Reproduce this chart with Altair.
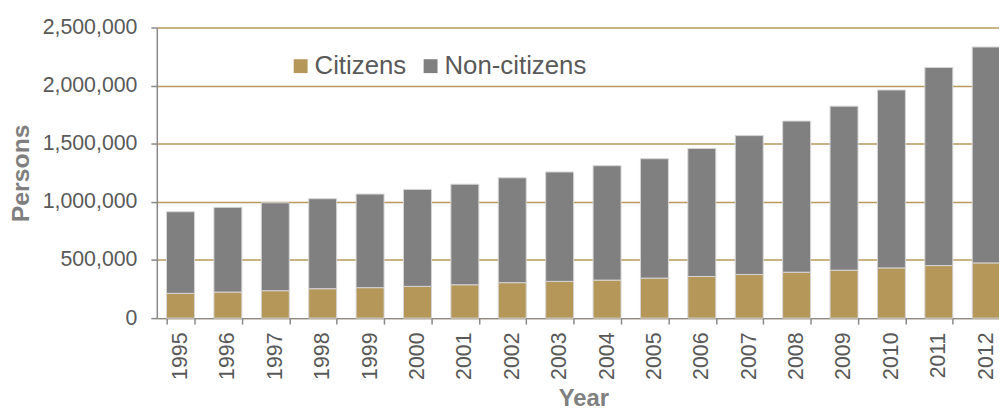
import altair as alt
import pandas as pd

years = [str(y) for y in range(1995, 2013)]
citizens = [213000, 224000, 236000, 253000, 262000, 273000, 287000, 305000, 316000,
            327000, 344000, 358000, 375000, 395000, 412000, 432000, 452000, 475000]
totals = [915000, 953000, 992000, 1027000, 1067000, 1107000, 1152000, 1207000, 1257000,
          1311000, 1371000, 1459000, 1570000, 1695000, 1823000, 1962000, 2156000, 2332000]
non_citizens = [t - c for t, c in zip(totals, citizens)]
y_ticks = [0, 500000, 1000000, 1500000, 2000000, 2500000]

series = ["Citizens", "Non-citizens"]
colors = ["#B5975A", "#808080"]

rows = []
for y, c, n in zip(years, citizens, non_citizens):
    rows.append({"Year": y, "Group": "Citizens", "Persons": c, "ord": 0})
    rows.append({"Year": y, "Group": "Non-citizens", "Persons": n, "ord": 1})
df = pd.DataFrame(rows)

FONT = "Liberation Sans"

chart = alt.Chart(df).mark_bar(stroke="#d6d6d6", strokeWidth=1).encode(
    x=alt.X("Year:O", title="Year",
            scale=alt.Scale(range=[0, 860], paddingInner=0.41, paddingOuter=0.205),
            axis=alt.Axis(labelAngle=-90, labelFontSize=21.5, labelColor="#595959",
                          labelPadding=8, tickSize=6, tickBand="extent",
                          tickColor="#898989", domainColor="#898989", domainWidth=1.5,
                          tickWidth=1.5, titleFontSize=24, titleFontWeight="bold",
                          titleColor="#7f7f7f", titlePadding=7, labelFont=FONT,
                          titleFont=FONT)),
    y=alt.Y("Persons:Q", title="Persons",
            scale=alt.Scale(domain=[0, 2500000], nice=False),
            axis=alt.Axis(values=y_ticks,
                          labelExpr="format(datum.value, ',')",
                          labelFontSize=21.5, labelColor="#595959",
                          labelPadding=14, tickSize=6, tickColor="#898989",
                          tickWidth=1.5, domainColor="#898989", domainWidth=1.5,
                          gridColor="#B9995C", gridWidth=1.5,
                          titleFontSize=25, titleFontWeight="bold",
                          titleColor="#7f7f7f", titlePadding=9, labelFont=FONT,
                          titleFont=FONT)),
    color=alt.Color("Group:N", scale=alt.Scale(domain=series, range=colors),
                    legend=alt.Legend(title=None, orient="none", legendX=132, legendY=26,
                                      direction="horizontal", symbolType="square",
                                      symbolSize=196, symbolStrokeWidth=0,
                                      labelFontSize=26, labelColor="#595959",
                                      labelFont=FONT, labelOffset=1, columnPadding=11)),
    order=alt.Order("ord:Q"),
).properties(
    width=849, height=293,
    autosize=alt.AutoSizeParams(type="none"),
    padding={"left": 150, "top": 18, "right": 0, "bottom": 93},
).configure_view(stroke=None).configure_axisX(grid=False)

chart.save("out.html", embed_options={"renderer": "svg", "actions": False})
